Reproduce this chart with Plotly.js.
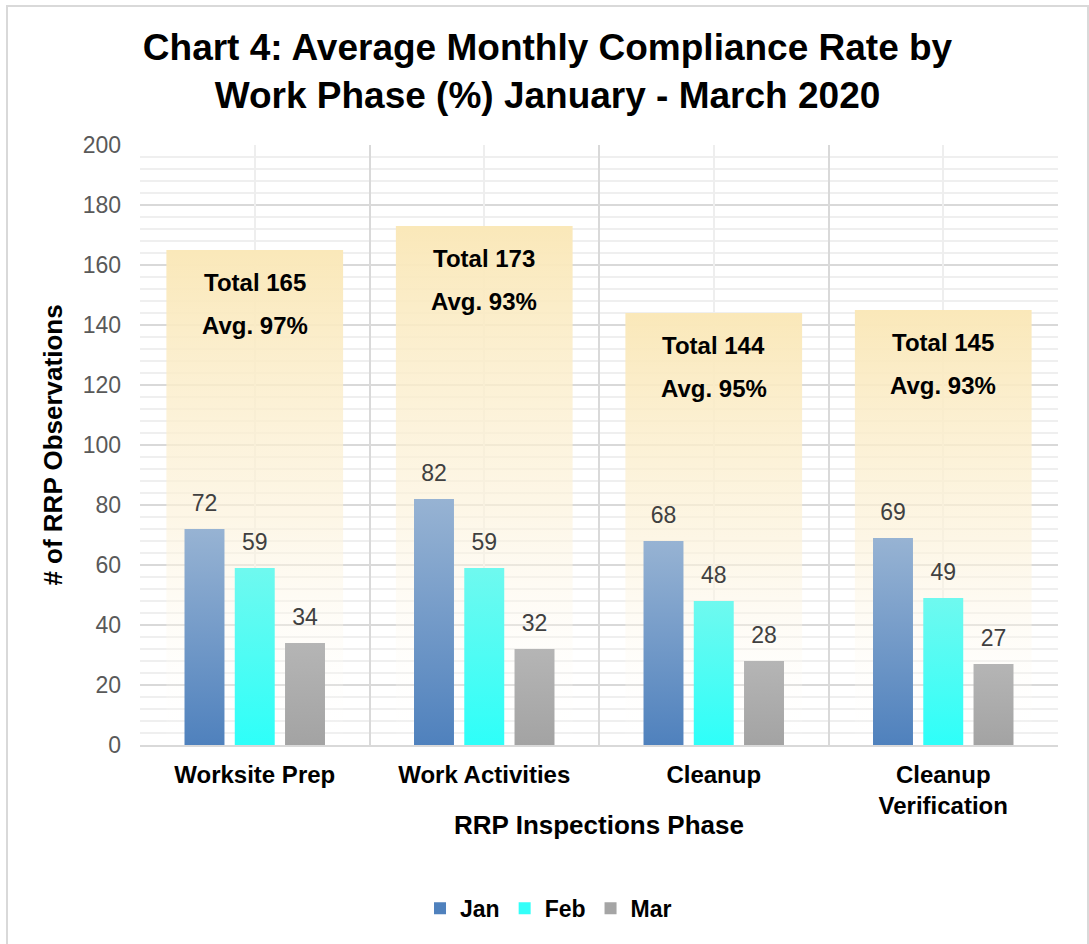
<!DOCTYPE html>
<html>
<head>
<meta charset="utf-8">
<script src="https://cdn.plot.ly/plotly-3.0.1.min.js"></script>
<style>
  body { margin: 0; overflow: hidden; background: #fff; }
  #frame {
    position: absolute; left: 6px; top: 5px;
    width: 1079px; height: 960px;
    border: 2px solid #d9d9d9;
  }
  #chart { width: 1079px; height: 960px; }
</style>
</head>
<body>
<div id="frame"><div id="chart"></div></div>
<script>
/* Chart 4: compliance observations by work phase, Jan - Mar 2020 */

const categories = ["Worksite Prep", "Work Activities", "Cleanup", "Cleanup<br>Verification"];
const jan = [72, 82, 68, 69];
const feb = [59, 59, 48, 49];
const mar = [34, 32, 28, 27];
const totals = [165, 173, 144, 145];
const avgPct = [97, 93, 95, 93];

const FONT = 'Arial, "Liberation Sans", sans-serif';

// gradient stops (top -> bottom) painted onto the bars after plotting
const gradients = {
  gTotal: [["0", "#fae8b9", 1], ["0.55", "#fcf2da", 0.65], ["1", "#ffffff", 0.05]],
  gJan: [["0", "#97b3d3", 1], ["1", "#4f81bd", 1]],
  gFeb: [["0", "#6ff9ef", 1], ["1", "#2efff9", 1]],
  gMar: [["0", "#b5b5b5", 1], ["1", "#a3a3a3", 1]]
};

// Totals box drawn behind the grouped bars (offset => not grouped)
const traceTotal = {
  type: "bar",
  x: categories,
  y: totals,
  width: 0.77,
  offset: -0.385,
  marker: { color: "#fae8b9" },
  showlegend: false,
  hoverinfo: "skip"
};

function monthTrace(name, values, color) {
  return {
    type: "bar",
    name: name,
    x: categories,
    y: values,
    marker: { color: color },
    hoverinfo: "skip"
  };
}

// value labels: grouped scatter text, invisible marker lifts text off the bar
function labelTrace(values) {
  return {
    type: "scatter",
    mode: "markers+text",
    x: categories,
    y: values,
    text: values.map(String),
    textposition: "top center",
    textfont: { family: FONT, size: 23, color: "#404040" },
    marker: { size: 18, opacity: 0 },
    showlegend: false,
    hoverinfo: "skip",
    cliponaxis: false
  };
}

const traceJan = monthTrace("Jan", jan, "#4f81bd");
const traceFeb = monthTrace("Feb", feb, "#33fff9");
const traceMar = monthTrace("Mar", mar, "#a5a5a5");

// empty trace so the overlay axis (category centre grid lines) gets drawn
const traceGrid = {
  type: "scatter",
  x: [],
  y: [],
  xaxis: "x2",
  showlegend: false,
  hoverinfo: "skip"
};

// "Total" / "Avg." labels sit at the top of each totals box
const annotations = [];
categories.forEach((cat, i) => {
  annotations.push({
    x: cat, y: totals[i], xref: "x", yref: "y",
    text: "Total " + totals[i],
    showarrow: false, yanchor: "top", yshift: -17,
    font: { family: FONT, size: 24, color: "#000", weight: 700 }
  });
  annotations.push({
    x: cat, y: totals[i], xref: "x", yref: "y",
    text: "Avg. " + avgPct[i] + "%",
    showarrow: false, yanchor: "top", yshift: -60,
    font: { family: FONT, size: 24, color: "#000", weight: 700 }
  });
});

const layout = {
  width: 1079,
  height: 960,
  margin: { l: 132, r: 29, t: 138, b: 222 },
  paper_bgcolor: "#fff",
  plot_bgcolor: "#fff",
  font: { family: FONT, color: "#000" },
  title: {
    text: "Chart 4: Average Monthly Compliance Rate by<br>Work Phase (%) January - March 2020",
    font: { family: FONT, size: 37, color: "#000", weight: 700 },
    x: 0.5, xanchor: "center",
    y: 0.945, yanchor: "middle"
  },
  barmode: "group",
  bargap: 0.343,
  bargroupgap: 0.205,
  scattermode: "group",
  scattergap: 0.343,
  showlegend: true,
  legend: {
    orientation: "h",
    x: 0.445, xanchor: "center",
    y: -0.272, yanchor: "middle",
    font: { family: FONT, size: 23, color: "#000", weight: 700 },
    traceorder: "normal"
  },
  xaxis: {
    type: "category",
    tickson: "boundaries",
    showgrid: true,
    gridcolor: "#d9d9d9",
    gridwidth: 2,
    showline: true,
    linecolor: "#d9d9d9",
    linewidth: 2,
    ticks: "",
    ticklabelstandoff: 7,
    tickfont: { family: FONT, size: 24, color: "#000", weight: 700 },
    title: {
      text: "RRP Inspections Phase",
      font: { family: FONT, size: 26, color: "#000", weight: 700 }
    }
  },
  xaxis2: {
    overlaying: "x",
    range: [-0.5, categories.length - 0.5],
    tick0: 0,
    dtick: 1,
    showgrid: true,
    gridcolor: "#eeeeee",
    gridwidth: 2,
    showticklabels: false,
    zeroline: false,
    ticks: ""
  },
  yaxis: {
    range: [0, 200],
    dtick: 20,
    showgrid: true,
    gridcolor: "#d9d9d9",
    gridwidth: 2,
    minor: { dtick: 4, showgrid: true, gridcolor: "#efefef", gridwidth: 2 },
    zeroline: false,
    ticks: "",
    ticklabelstandoff: 18,
    tickfont: { family: FONT, size: 23, color: "#595959" },
    automargin: true,
    title: {
      text: "# of RRP Observations",
      standoff: 12,
      font: { family: FONT, size: 26, color: "#000", weight: 700 }
    }
  },
  annotations: annotations
};

function addGradients(gd) {
  const defs = gd.querySelector(".main-svg defs");
  const ns = "http://www.w3.org/2000/svg";
  Object.keys(gradients).forEach(id => {
    if (defs.querySelector("#" + id)) return;
    const lg = document.createElementNS(ns, "linearGradient");
    lg.setAttribute("id", id);
    lg.setAttribute("x1", "0"); lg.setAttribute("y1", "0");
    lg.setAttribute("x2", "0"); lg.setAttribute("y2", "1");
    gradients[id].forEach(s => {
      const stop = document.createElementNS(ns, "stop");
      stop.setAttribute("offset", s[0]);
      stop.setAttribute("stop-color", s[1]);
      stop.setAttribute("stop-opacity", s[2]);
      lg.appendChild(stop);
    });
    defs.appendChild(lg);
  });
}

function paintBars(gd) {
  addGradients(gd);
  const ids = ["gTotal", "gJan", "gFeb", "gMar"];
  gd.querySelectorAll(".barlayer .trace").forEach((tr, i) => {
    tr.querySelectorAll(".point path").forEach(p => {
      p.style.fill = "url(#" + ids[i] + ")";
      p.style.fillOpacity = 1;
    });
  });
}

const data = [
  traceTotal, traceJan, traceFeb, traceMar,
  labelTrace(jan), labelTrace(feb), labelTrace(mar),
  traceGrid
];

Plotly.newPlot("chart", data, layout, {
  displayModeBar: false,
  staticPlot: true
}).then(gd => {
  paintBars(gd);
  gd.on("plotly_afterplot", () => paintBars(gd));
});
</script>
</body>
</html>
